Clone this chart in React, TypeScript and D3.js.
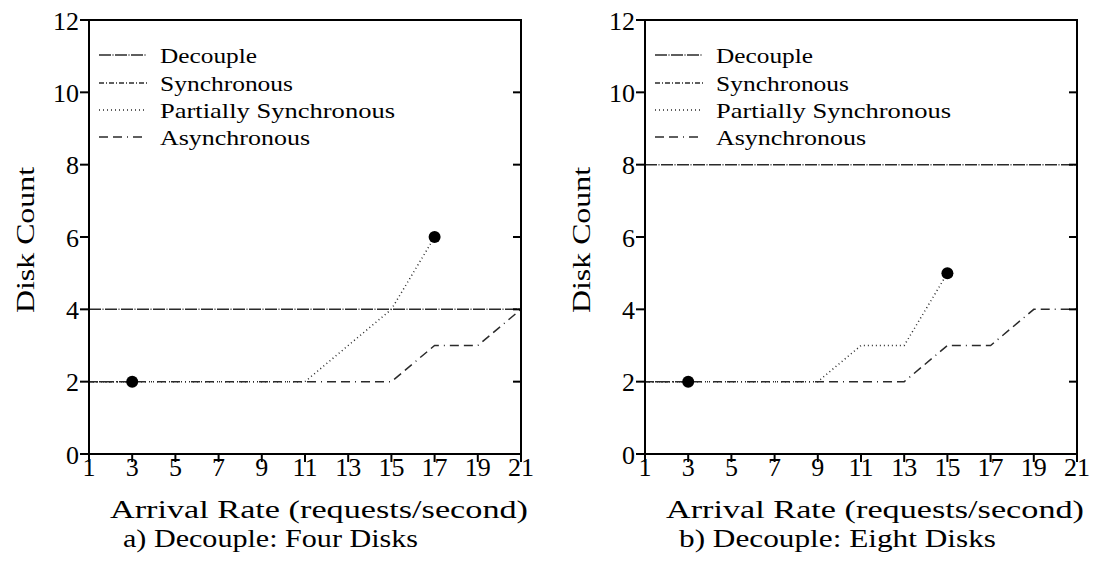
import React from "react";
import * as d3 from "d3";

// ---- data ----
const xTicks = [1, 3, 5, 7, 9, 11, 13, 15, 17, 19, 21];
const yTicks = [0, 2, 4, 6, 8, 10, 12];
const seriesNames = ["Decouple", "Synchronous", "Partially Synchronous", "Asynchronous"];

const decoupleX = [1, 21];
const fourDecoupleY = [4, 4];
const eightDecoupleY = [8, 8];

const syncX = [1, 3];
const syncY = [2, 2];

const fourPartialX = [1, 11, 15, 17];
const fourPartialY = [2, 2, 4, 6];
const fourAsyncX = [1, 15, 17, 19, 21];
const fourAsyncY = [2, 2, 3, 3, 4];

const eightPartialX = [1, 9, 11, 13, 15];
const eightPartialY = [2, 2, 3, 3, 5];
const eightAsyncX = [1, 13, 15, 17, 19, 21];
const eightAsyncY = [2, 2, 3, 3, 4, 4];

const xTitle = "Arrival Rate (requests/second)";
const yTitle = "Disk Count";
const captions = ["a) Decouple: Four Disks", "b) Decouple: Eight Disks"];

// ---- styles ----
const FONT = "Liberation Serif, DejaVu Serif, Times, serif";
const LINE = "#2a2a2a";
const dashes = ["12,1.5,1,1.5", "5,2,1,2", "1,3", "9,5,9,5,1,5"];
const legendWidths = [97, 133, 235, 150];

type Series = { x: number[]; y: number[]; dot: boolean };

const txt = (size: number): React.CSSProperties => ({ fontFamily: FONT, fontSize: size + "px" });

function Panel({ left, series, caption }: { left: number; series: Series[]; caption: string }) {
  const x0 = left, x1 = left + 432, yTop = 20, yBot = 454;
  const xs = d3.scaleLinear().domain([1, 21]).range([x0, x1]);
  const ys = d3.scaleLinear().domain([0, 12]).range([yBot, yTop]);
  const line = d3.line<number>();
  const legendY = [55, 83, 110, 137];
  return (
    <g>
      {series.map((s, i) => (
        <path
          key={"l" + i}
          d={line(s.x.map((v, k) => [xs(v), ys(s.y[k])]) as any) || ""}
          fill="none"
          stroke={LINE}
          strokeWidth={1.5}
          strokeDasharray={dashes[i]}
        />
      ))}
      {series.map((s, i) =>
        s.dot ? (
          <circle
            key={"d" + i}
            cx={xs(s.x[s.x.length - 1])}
            cy={ys(s.y[s.y.length - 1])}
            r={6}
            fill="#000"
          />
        ) : null
      )}
      <rect x={x0} y={yTop} width={x1 - x0} height={yBot - yTop} fill="none" stroke="#000" strokeWidth={2} />
      {yTicks.map((t) => (
        <g key={"y" + t}>
          <line x1={x0 - 9} x2={x0} y1={ys(t)} y2={ys(t)} stroke="#000" strokeWidth={2} />
          <line x1={x1 - 8} x2={x1} y1={ys(t)} y2={ys(t)} stroke="#000" strokeWidth={2} />
          <text x={x0 - 10} y={ys(t) + 9.5} textAnchor="end" style={txt(26)}>
            {t}
          </text>
        </g>
      ))}
      {xTicks.map((t) => (
        <g key={"x" + t}>
          <line x1={xs(t)} x2={xs(t)} y1={yBot} y2={yBot + 8} stroke="#000" strokeWidth={2} />
          <text x={xs(t)} y={476} textAnchor="middle" style={txt(26)}>
            {t}
          </text>
        </g>
      ))}
      {seriesNames.map((n, i) => (
        <g key={"lg" + i}>
          <line
            x1={x0 + 10}
            x2={x0 + 58}
            y1={legendY[i]}
            y2={legendY[i]}
            stroke={LINE}
            strokeWidth={1.5}
            strokeDasharray={dashes[i]}
          />
          <text
            x={x0 + 71}
            y={legendY[i] + 8}
            style={txt(22)}
            textLength={legendWidths[i]}
            lengthAdjust="spacingAndGlyphs"
          >
            {n}
          </text>
        </g>
      ))}
      <text
        transform={`translate(${x0 - 55},240) rotate(-90)`}
        textAnchor="middle"
        style={txt(26)}
        textLength={146}
        lengthAdjust="spacingAndGlyphs"
      >
        {yTitle}
      </text>
      <text x={x0 + 21} y={518} style={txt(25)} textLength={418} lengthAdjust="spacingAndGlyphs">
        {xTitle}
      </text>
      <text
        x={x0 + 34}
        y={547}
        style={txt(25)}
        textLength={caption.startsWith("a") ? 295 : 317}
        lengthAdjust="spacingAndGlyphs"
      >
        {caption}
      </text>
    </g>
  );
}

export default function App() {
  const four: Series[] = [
    { x: decoupleX, y: fourDecoupleY, dot: false },
    { x: syncX, y: syncY, dot: true },
    { x: fourPartialX, y: fourPartialY, dot: true },
    { x: fourAsyncX, y: fourAsyncY, dot: false },
  ];
  const eight: Series[] = [
    { x: decoupleX, y: eightDecoupleY, dot: false },
    { x: syncX, y: syncY, dot: true },
    { x: eightPartialX, y: eightPartialY, dot: true },
    { x: eightAsyncX, y: eightAsyncY, dot: false },
  ];
  return (
    <svg width={1094} height={565} style={{ position: "absolute", left: 0, top: 0, background: "#fff" }}>
      <rect width={1094} height={565} fill="#fff" />
      <Panel left={89} series={four} caption={captions[0]} />
      <Panel left={645} series={eight} caption={captions[1]} />
    </svg>
  );
}
